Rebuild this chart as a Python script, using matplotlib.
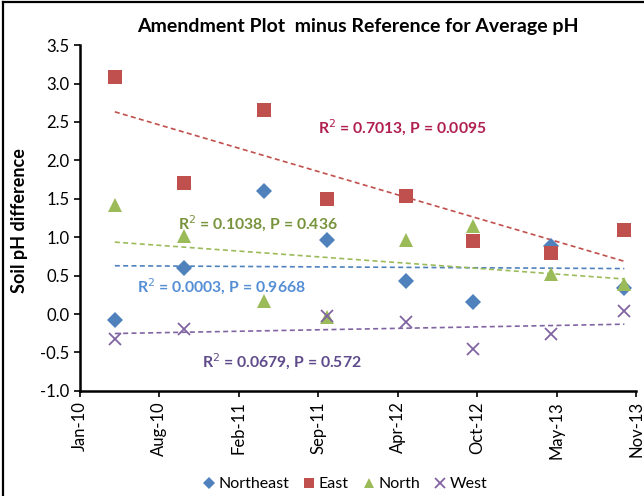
import numpy as np
import matplotlib
matplotlib.use('Agg')
import matplotlib.pyplot as plt
import matplotlib.dates as mdates
from matplotlib.lines import Line2D
from datetime import date, timedelta

plt.rcParams['font.family'] = ['Lato', 'DejaVu Sans']

# sampling dates (spring / fall)
dates = [date(2010, 4, 20), date(2010, 10, 10), date(2011, 4, 30), date(2011, 10, 5),
         date(2012, 4, 22), date(2012, 10, 8), date(2013, 4, 22), date(2013, 10, 23)]

# pH difference per plot
northeast = [-0.08, 0.60, 1.60, 0.96, 0.43, 0.15, 0.88, 0.34]
east = [3.08, 1.71, 2.66, 1.50, 1.53, 0.95, 0.80, 1.09]
north = [1.42, 1.01, 0.17, -0.04, 0.97, 1.14, 0.52, 0.39]
west = [-0.32, -0.20, np.nan, -0.03, -0.11, -0.45, -0.26, 0.04]

series_names = ['Northeast', 'East', 'North', 'West']
stats_labels = ['R$^2$ = 0.0003, P = 0.9668', 'R$^2$ = 0.7013, P = 0.0095',
                'R$^2$ = 0.1038, P = 0.436', 'R$^2$ = 0.0679, P = 0.572']

colors = ['#4F81BD', '#C0504D', '#9BBB59', '#8064A2']
text_colors = ['#558ED5', '#B0204F', '#77933C', '#5F4B8B']
markers = ['D', 's', '^', 'x']
msizes = [8.5, 10.5, 10.5, 9]
text_pos = [(0.255, 0.301), (0.579, 0.760), (0.320, 0.483), (0.363, 0.084)]

fig = plt.figure(figsize=(6.44, 4.96), dpi=100)
ax = fig.add_axes([0.124, 0.212, 0.864, 0.697])

x = mdates.date2num(dates)
handles = []
for vals, name, c, tc, m, ms, lab, pos in zip([northeast, east, north, west], series_names,
                                              colors, text_colors, markers, msizes,
                                              stats_labels, text_pos):
    y = np.array(vals, dtype=float)
    ok = ~np.isnan(y)
    mew = 1.3 if m == 'x' else 0
    h, = ax.plot(x[ok], y[ok], linestyle='none', marker=m, markersize=ms, color=c,
                 markeredgewidth=mew, label=name, zorder=3)
    handles.append(h)
    # linear trendline
    k, b = np.polyfit(x[ok], y[ok], 1)
    xs = np.array([x[ok].min(), x[ok].max()])
    ax.plot(xs, k * xs + b, linestyle=(0, (3, 2)), color=c, linewidth=1.2, zorder=2)
    ax.text(pos[0], pos[1], lab, transform=ax.transAxes, color=tc, fontsize=11.3,
            fontweight='bold', ha='center', va='center')

start = date(2010, 1, 22)
ticks = [start + timedelta(days=200 * i) for i in range(8)]
ax.set_xlim(mdates.date2num(ticks[0]), mdates.date2num(ticks[-1]))
ax.set_xticks(mdates.date2num(ticks))
ax.xaxis.set_major_formatter(mdates.DateFormatter('%b-%y'))
plt.setp(ax.get_xticklabels(), rotation=90)

ax.set_ylim(-1.0, 3.5)
ax.set_yticks(np.arange(-1.0, 3.51, 0.5))
ax.yaxis.set_major_formatter(matplotlib.ticker.FormatStrFormatter('%.1f'))

ax.spines['top'].set_visible(False)
ax.spines['right'].set_visible(False)
ax.spines['left'].set_linewidth(1.8)
ax.spines['bottom'].set_linewidth(1.8)
ax.tick_params(direction='out', length=4, width=1.2, labelsize=12, colors='black')

fig.text(20 / 644, 1 - 221 / 496, 'Soil pH difference', rotation=90, ha='center',
         va='center', fontsize=13, fontweight='bold')
fig.text(0.556, 0.946, 'Amendment Plot  minus Reference for Average pH', ha='center',
         va='center', fontsize=14, fontweight='bold')

fig.legend(handles=handles, loc='center', bbox_to_anchor=(0.536, 0.024), ncol=4,
           frameon=False, fontsize=11.5, handlelength=0.7, handletextpad=0.25,
           columnspacing=0.9, markerscale=0.75, borderpad=0.1)

# chart border (left and top edges visible)
fig.add_artist(Line2D([0.004, 0.004], [0, 0.996], transform=fig.transFigure,
                      color='black', linewidth=1.6))
fig.add_artist(Line2D([0.004, 1], [0.996, 0.996], transform=fig.transFigure,
                      color='black', linewidth=1.6))

fig.savefig('out.png', dpi=100)
